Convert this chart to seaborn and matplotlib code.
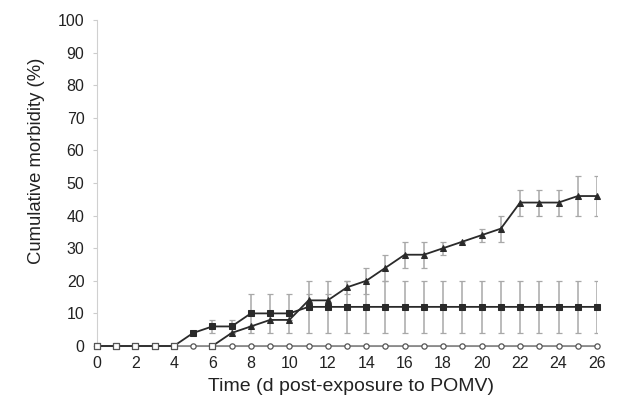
import numpy as np
import pandas as pd
import matplotlib
matplotlib.use("Agg")
import matplotlib.pyplot as plt
import seaborn as sns

# days post-exposure
days = list(range(0, 27))

# control group (open circles), all zero
control = [0] * 27

# square group
sq_days = list(range(0, 27))
sq_vals = [0, 0, 0, 0, 0, 4, 6, 6, 10, 10, 10, 12, 12, 12, 12, 12, 12, 12,
           12, 12, 12, 12, 12, 12, 12, 12, 12]
sq_err = [0, 0, 0, 0, 0, 0, 2, 2, 6, 6, 6, 8, 8, 8, 8, 8, 8, 8,
          8, 8, 8, 8, 8, 8, 8, 8, 8]

# triangle group
tri_days = list(range(6, 27))
tri_vals = [0, 4, 6, 8, 8, 14, 14, 18, 20, 24, 28, 28, 30, 32, 34, 36,
            44, 44, 44, 46, 46]
tri_err = [0, 0, 0, 0, 0, 2, 2, 2, 4, 4, 4, 4, 2, 0, 2, 4,
           4, 4, 4, 6, 6]

sns.set_style("white")
plt.rcParams['font.family'] = ['Liberation Sans', 'DejaVu Sans']

fig = plt.figure(figsize=(6.17, 4.0), dpi=100)
ax = fig.add_axes([0.1572, 0.135, 0.8104, 0.815])

line_col = "#2a2a2a"
err_col = "#a8a8a8"

ax.errorbar(sq_days, sq_vals, yerr=sq_err, fmt="none", ecolor=err_col,
            elinewidth=1.1, capsize=2.3, capthick=0.9, zorder=2)
ax.errorbar(tri_days, tri_vals, yerr=tri_err, fmt="none", ecolor=err_col,
            elinewidth=1.1, capsize=2.3, capthick=0.9, zorder=2)

ctrl_df = pd.DataFrame({"day": days, "val": control})
sq_df = pd.DataFrame({"day": sq_days, "val": sq_vals})
tri_df = pd.DataFrame({"day": tri_days, "val": tri_vals})

sns.lineplot(data=ctrl_df, x="day", y="val", ax=ax, color="#777777",
             linewidth=1.1, marker="o", markersize=3.8, markerfacecolor="white",
             markeredgecolor="#555555", markeredgewidth=0.9, zorder=3, clip_on=False)
sns.lineplot(data=sq_df, x="day", y="val", ax=ax, color=line_col,
             linewidth=1.3, marker="s", markersize=4.5, markerfacecolor=line_col,
             markeredgecolor=line_col, zorder=4, clip_on=False)
sns.lineplot(data=tri_df, x="day", y="val", ax=ax, color=line_col,
             linewidth=1.3, marker="^", markersize=4.8, markerfacecolor=line_col,
             markeredgecolor=line_col, zorder=4, clip_on=False)

# zero values drawn as open squares
zero_x = [d for d, v in zip(sq_days, sq_vals) if v == 0] + \
         [d for d, v in zip(tri_days, tri_vals) if v == 0]
zero_y = [0] * len(zero_x)
sns.scatterplot(x=zero_x, y=zero_y, ax=ax, marker="s", s=14, color="white",
                edgecolor="#555555", linewidth=0.9, zorder=5, clip_on=False)

ax.set_xlim(0, 26)
ax.set_ylim(0, 100)
ax.set_xticks(range(0, 27, 2))
ax.set_yticks(range(0, 101, 10))
ax.tick_params(axis="y", left=True, length=3, color="#cccccc", labelsize=11.5,
               labelcolor="#222222", pad=6)
ax.tick_params(axis="x", bottom=False, labelsize=11.5, labelcolor="#222222", pad=4)

for s in ["top", "right"]:
    ax.spines[s].set_visible(False)
ax.spines["left"].set_color("#d0d0d0")
ax.spines["bottom"].set_color("#d0d0d0")

ax.set_xlabel("Time (d post-exposure to POMV)", fontsize=14, color="#222222")
ax.set_ylabel("Cumulative morbidity (%)", fontsize=13.3, color="#222222")
ax.xaxis.set_label_coords(0.508, -0.098)
ax.yaxis.set_label_coords(-0.104, 0.567)

fig.savefig("out.png", dpi=100)
plt.close(fig)
